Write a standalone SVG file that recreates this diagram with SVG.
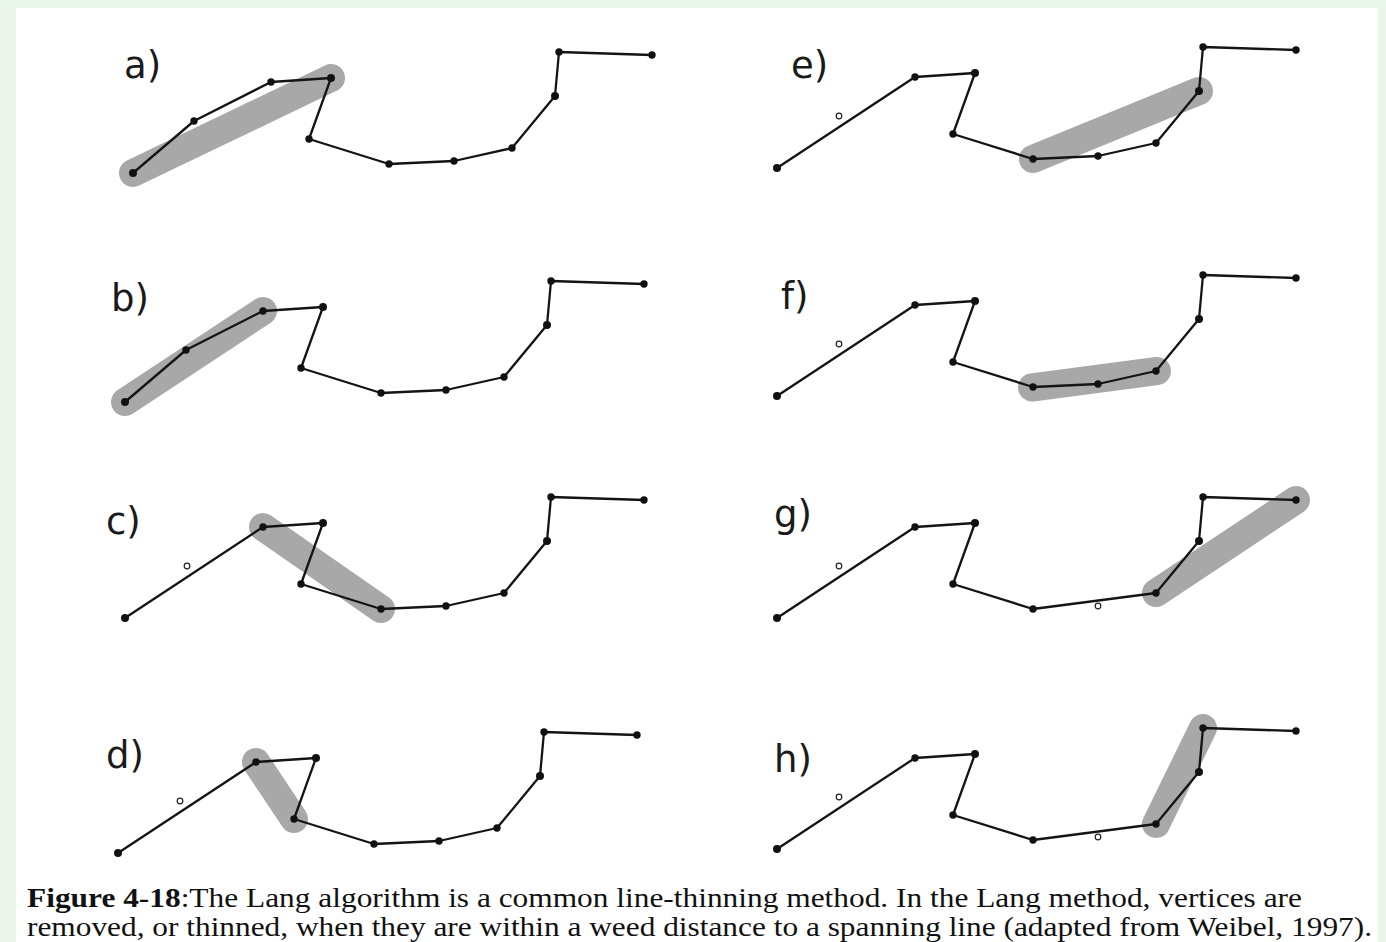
<svg xmlns="http://www.w3.org/2000/svg" xmlns:xlink="http://www.w3.org/1999/xlink" width="1386" height="942" viewBox="0 0 1386 942">
<style>
.hl{fill:none;stroke:#a8a8a8;stroke-width:28;stroke-linecap:round}
.ln{fill:none;stroke:#141414;stroke-width:2.3;stroke-linejoin:round}
.v{fill:#111}
.o{fill:#fff;stroke:#222;stroke-width:1.2}
.lbl{font-family:"DejaVu Sans","Liberation Sans",sans-serif;font-size:37px;fill:#1a1a1a}
.cap{font-family:"Liberation Serif","Times New Roman",serif;font-size:26.5px;fill:#111}
</style>
<defs>
<g id="vAll">
<circle class="v" cx="133" cy="173" r="4"/><circle class="v" cx="271" cy="82" r="3.7"/><circle class="v" cx="331" cy="78" r="4"/><circle class="v" cx="309" cy="139" r="3.7"/><circle class="v" cx="389" cy="164" r="3.7"/><circle class="v" cx="512" cy="148" r="3.7"/><circle class="v" cx="555" cy="96" r="4"/><circle class="v" cx="559" cy="52" r="3.7"/><circle class="v" cx="652" cy="55" r="3.7"/>
</g>
</defs>
<rect x="0" y="0" width="1386" height="942" fill="#eaf5ea"/>
<rect x="16" y="8" width="1362" height="934" fill="#fff"/>

<g id="panel-a">
<line class="hl" x1="133" y1="173" x2="331" y2="78"/>
<polyline class="ln" points="133,173 194,121 271,82 331,78 309,139 389,164 454,161 512,148 555,96 559,52 652,55"/>
<use xlink:href="#vAll"/><circle class="v" cx="194" cy="121" r="3.7"/><circle class="v" cx="454" cy="161" r="3.7"/>
<text class="lbl" x="124" y="78">a)</text>
</g>

<g id="panel-b" transform="translate(-8,229)">
<polyline class="hl" points="133,173 271,82"/>
<polyline class="ln" points="133,173 194,121 271,82 331,78 309,139 389,164 454,161 512,148 555,96 559,52 652,55"/>
<use xlink:href="#vAll"/><circle class="v" cx="194" cy="121" r="3.7"/><circle class="v" cx="454" cy="161" r="3.7"/>
<text class="lbl" x="119" y="82">b)</text>
</g>

<g id="panel-c" transform="translate(-8,445)">
<line class="hl" x1="271" y1="82" x2="389" y2="164"/>
<polyline class="ln" points="133,173 271,82 331,78 309,139 389,164 454,161 512,148 555,96 559,52 652,55"/>
<use xlink:href="#vAll"/><circle class="v" cx="454" cy="161" r="3.7"/>
<circle class="o" cx="195" cy="121" r="2.8"/>
<text class="lbl" x="114" y="89">c)</text>
</g>

<g id="panel-d" transform="translate(-15,680)">
<line class="hl" x1="271" y1="82" x2="309" y2="139"/>
<polyline class="ln" points="133,173 271,82 331,78 309,139 389,164 454,161 512,148 555,96 559,52 652,55"/>
<use xlink:href="#vAll"/><circle class="v" cx="454" cy="161" r="3.7"/>
<circle class="o" cx="195" cy="121" r="2.8"/>
<text class="lbl" x="121" y="88">d)</text>
</g>

<g id="panel-e" transform="translate(644,-5)">
<line class="hl" x1="389" y1="164" x2="555" y2="96"/>
<polyline class="ln" points="133,173 271,82 331,78 309,139 389,164 454,161 512,148 555,96 559,52 652,55"/>
<use xlink:href="#vAll"/><circle class="v" cx="454" cy="161" r="3.7"/>
<circle class="o" cx="195" cy="121" r="2.8"/>
<text class="lbl" x="147" y="83">e)</text>
</g>

<g id="panel-f" transform="translate(644,223)">
<line class="hl" x1="388" y1="164.5" x2="513" y2="148" stroke-linecap="square" stroke-linejoin="round"/>
<polyline class="ln" points="133,173 271,82 331,78 309,139 389,164 454,161 512,148 555,96 559,52 652,55"/>
<use xlink:href="#vAll"/><circle class="v" cx="454" cy="161" r="3.7"/>
<circle class="o" cx="195" cy="121" r="2.8"/>
<text class="lbl" x="137" y="86">f)</text>
</g>

<g id="panel-g" transform="translate(644,445)">
<line class="hl" x1="512" y1="148" x2="652" y2="55"/>
<polyline class="ln" points="133,173 271,82 331,78 309,139 389,164 512,148 555,96 559,52 652,55"/>
<use xlink:href="#vAll"/>
<circle class="o" cx="195" cy="121" r="2.8"/><circle class="o" cx="454" cy="161" r="2.8"/>
<text class="lbl" x="130" y="82">g)</text>
</g>

<g id="panel-h" transform="translate(644,676)">
<line class="hl" x1="512" y1="148" x2="559" y2="52"/>
<polyline class="ln" points="133,173 271,82 331,78 309,139 389,164 512,148 555,96 559,52 652,55"/>
<use xlink:href="#vAll"/>
<circle class="o" cx="195" cy="121" r="2.8"/><circle class="o" cx="454" cy="161" r="2.8"/>
<text class="lbl" x="130" y="96">h)</text>
</g>

<g id="caption">
<text class="cap" x="27" y="907" textLength="1275" lengthAdjust="spacingAndGlyphs"><tspan font-weight="bold">Figure 4-18</tspan>:The Lang algorithm is a common line-thinning method. In the Lang method, vertices are</text>
<text class="cap" x="27" y="936" textLength="1345" lengthAdjust="spacingAndGlyphs">removed, or thinned, when they are within a weed distance to a spanning line (adapted from Weibel, 1997).</text>
</g>
</svg>
